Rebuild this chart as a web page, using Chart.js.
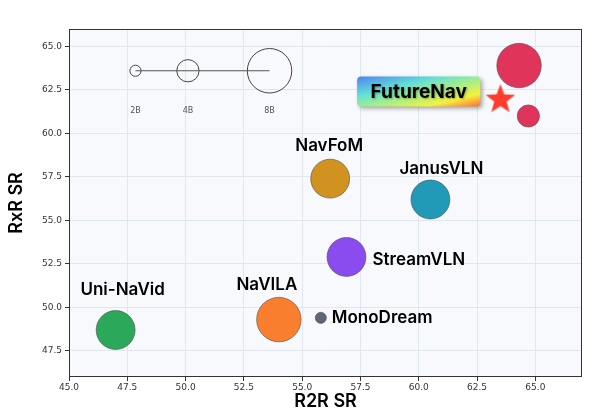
<!DOCTYPE html>
<html>
<head>
<meta charset="utf-8">
<script src="https://cdn.jsdelivr.net/npm/chart.js@4.4.1/dist/chart.umd.min.js"></script>
<style>
  html, body { margin: 0; padding: 0; background: #fff; }
  #wrap { width: 606px; height: 411px; }
</style>
</head>
<body>
<div id="wrap"><canvas id="chart"></canvas></div>
<script>
// data
const models = ["Uni-NaVid", "NaVILA", "MonoDream", "StreamVLN", "NavFoM", "JanusVLN", "FutureNav", "FutureNav"];
const r2rSR = [47.0, 54.0, 55.8, 56.9, 56.2, 60.5, 64.3, 64.7];
const rxrSR = [48.7, 49.3, 49.4, 52.9, 57.4, 56.2, 63.9, 61.0];
const paramsB = [7, 8, 2, 7, 7, 7, 8, 4];

const starR2R = [63.5];
const starRxR = [62.0];
const starName = "FutureNav";

const sizeLegendB = [2, 4, 8];
const sizeLegendX = [47.85, 50.1, 53.6];
const sizeLegendY = [63.6];

const xTicks = [45, 47.5, 50, 52.5, 55, 57.5, 60, 62.5, 65];
const yTicks = [47.5, 50, 52.5, 55, 57.5, 60, 62.5, 65];

const colors = ["#2ca85a", "#f97f2f", "#5b6677", "#8a4cee", "#d09320", "#219ab8", "#e0345a", "#e0345a"];
const PX_PER_B = 2.78;

// where each name sits relative to its bubble (px)
const labelPlace = [
  { dx: 7, dy: -40, align: "center" },
  { dx: -12, dy: -35, align: "center" },
  { dx: 11, dy: 0, align: "left" },
  { dx: 26, dy: 2.5, align: "left" },
  { dx: -1, dy: -33, align: "center" },
  { dx: 11, dy: -31, align: "center" },
  null,
  null
];

function makeStar(size, color) {
  const c = document.createElement("canvas");
  c.width = size; c.height = size;
  const g = c.getContext("2d");
  const R = size / 2 - 0.5, r = R * 0.42, cx = size / 2, cy = size / 2 + 1;
  g.beginPath();
  for (let i = 0; i < 10; i++) {
    const a = -Math.PI / 2 + i * Math.PI / 5;
    const rad = i % 2 ? r : R;
    g.lineTo(cx + rad * Math.cos(a), cy + rad * Math.sin(a));
  }
  g.closePath();
  g.fillStyle = color;
  g.fill();
  return c;
}

const plotBg = {
  id: "plotBg",
  beforeDraw(chart) {
    const { ctx, chartArea: a } = chart;
    ctx.save();
    ctx.fillStyle = "#ffffff";
    ctx.fillRect(0, 0, chart.width, chart.height);
    ctx.fillStyle = "#f7f9fc";
    ctx.fillRect(a.left, a.top, a.right - a.left, a.bottom - a.top);
    ctx.restore();
  }
};

const annotations = {
  id: "annotations",
  afterDatasetsDraw(chart) {
    const { ctx, chartArea: a } = chart;
    ctx.save();

    // frame
    ctx.strokeStyle = "#333";
    ctx.lineWidth = 1;
    ctx.strokeRect(a.left + 0.5, a.top + 0.5, a.right - a.left - 1, a.bottom - a.top - 1);

    // model names
    const pts = chart.getDatasetMeta(0).data;
    ctx.fillStyle = "#000";
    ctx.font = "600 17px Inter";
    ctx.textBaseline = "middle";
    models.forEach((name, i) => {
      const p = labelPlace[i];
      if (!p) return;
      ctx.textAlign = p.align;
      ctx.fillText(name, pts[i].x + p.dx, pts[i].y + p.dy);
    });

    // size legend captions
    const leg = chart.getDatasetMeta(2).data;
    ctx.font = "8px 'DejaVu Sans'";
    ctx.fillStyle = "#555";
    ctx.textAlign = "center";
    sizeLegendB.forEach((b, i) => ctx.fillText(b + "B", leg[i].x, leg[i].y + 40));

    // FutureNav badge
    const s = chart.getDatasetMeta(3).data[0];
    ctx.font = "700 19px Inter";
    const tw = ctx.measureText(starName).width;
    const w = tw + 27, h = 30;
    const x = s.x - 20 - w, y = s.y - 7 - h / 2;
    const ax = 2 * w * h * h / (h * h + w * w), by = ax * w / h;
    const grad = ctx.createLinearGradient(x, y, x + ax, y + by);
    grad.addColorStop(0, "#4c84f2");
    grad.addColorStop(0.33, "#62e0d6");
    grad.addColorStop(0.55, "#a6ee88");
    grad.addColorStop(0.78, "#f3f23e");
    grad.addColorStop(1, "#ff6a3a");
    ctx.shadowColor = "rgba(0,0,0,0.35)";
    ctx.shadowBlur = 4;
    ctx.shadowOffsetX = 2;
    ctx.shadowOffsetY = 2;
    ctx.beginPath();
    ctx.roundRect(x, y, w, h, 4);
    ctx.fillStyle = grad;
    ctx.fill();
    ctx.shadowColor = "rgba(0,0,0,0.3)";
    ctx.shadowBlur = 2;
    ctx.shadowOffsetX = 1;
    ctx.shadowOffsetY = 1;
    ctx.fillStyle = "#000";
    ctx.textAlign = "center";
    ctx.fillText(starName, x + w / 2, y + h / 2 + 1);
    ctx.restore();
  }
};

const tickFont = { family: "'DejaVu Sans'", size: 9 };

new Chart(document.getElementById("chart"), {
  type: "bubble",
  data: {
    datasets: [
      {
        data: models.map((m, i) => ({ x: r2rSR[i], y: rxrSR[i], r: paramsB[i] * PX_PER_B })),
        backgroundColor: colors,
        borderColor: "rgba(70,70,70,0.7)",
        borderWidth: 0.8
      },
      {
        type: "line",
        data: [
          { x: sizeLegendX[0], y: sizeLegendY[0] },
          { x: sizeLegendX[sizeLegendX.length - 1], y: sizeLegendY[0] }
        ],
        borderColor: "#555",
        borderWidth: 1.2,
        pointRadius: 0
      },
      {
        data: sizeLegendB.map((b, i) => ({ x: sizeLegendX[i], y: sizeLegendY[0], r: b * PX_PER_B })),
        backgroundColor: "rgba(0,0,0,0)",
        borderColor: "#444",
        borderWidth: 1
      },
      {
        type: "scatter",
        data: starR2R.map((v, i) => ({ x: v, y: starRxR[i] })),
        pointStyle: makeStar(32, "#ff3b2c"),
        pointRadius: 15
      }
    ]
  },
  options: {
    responsive: true,
    maintainAspectRatio: false,
    animation: false,
    layout: { padding: { top: 29, right: 24, left: 0, bottom: 0 } },
    plugins: { legend: { display: false }, tooltip: { enabled: false } },
    scales: {
      x: {
        type: "linear",
        min: 45,
        max: 67,
        afterBuildTicks: s => { s.ticks = xTicks.map(v => ({ value: v })); },
        afterFit: s => { s.height = 34; },
        grid: { color: "#e0e7ef", tickColor: "#333", tickLength: 4 },
        border: { display: false },
        ticks: { font: tickFont, color: "#333", padding: 1, maxRotation: 0, callback: v => v.toFixed(1) },
        title: {
          display: true,
          text: "R2R SR",
          color: "#000",
          font: { family: "Inter", size: 18, weight: "600", lineHeight: 1 },
          padding: 0
        }
      },
      y: {
        type: "linear",
        min: 46,
        max: 66,
        afterBuildTicks: s => { s.ticks = yTicks.map(v => ({ value: v })); },
        afterFit: s => { s.width = 69; },
        grid: { color: "#e0e7ef", tickColor: "#333", tickLength: 4 },
        border: { display: false },
        ticks: { font: tickFont, color: "#333", padding: 3, callback: v => v.toFixed(1) },
        title: {
          display: true,
          text: "RxR SR",
          color: "#000",
          font: { family: "Inter", size: 18, weight: "600", lineHeight: 1.2 },
          padding: { top: 6, bottom: 0 }
        }
      }
    }
  },
  plugins: [plotBg, annotations]
});
</script>
</body>
</html>
